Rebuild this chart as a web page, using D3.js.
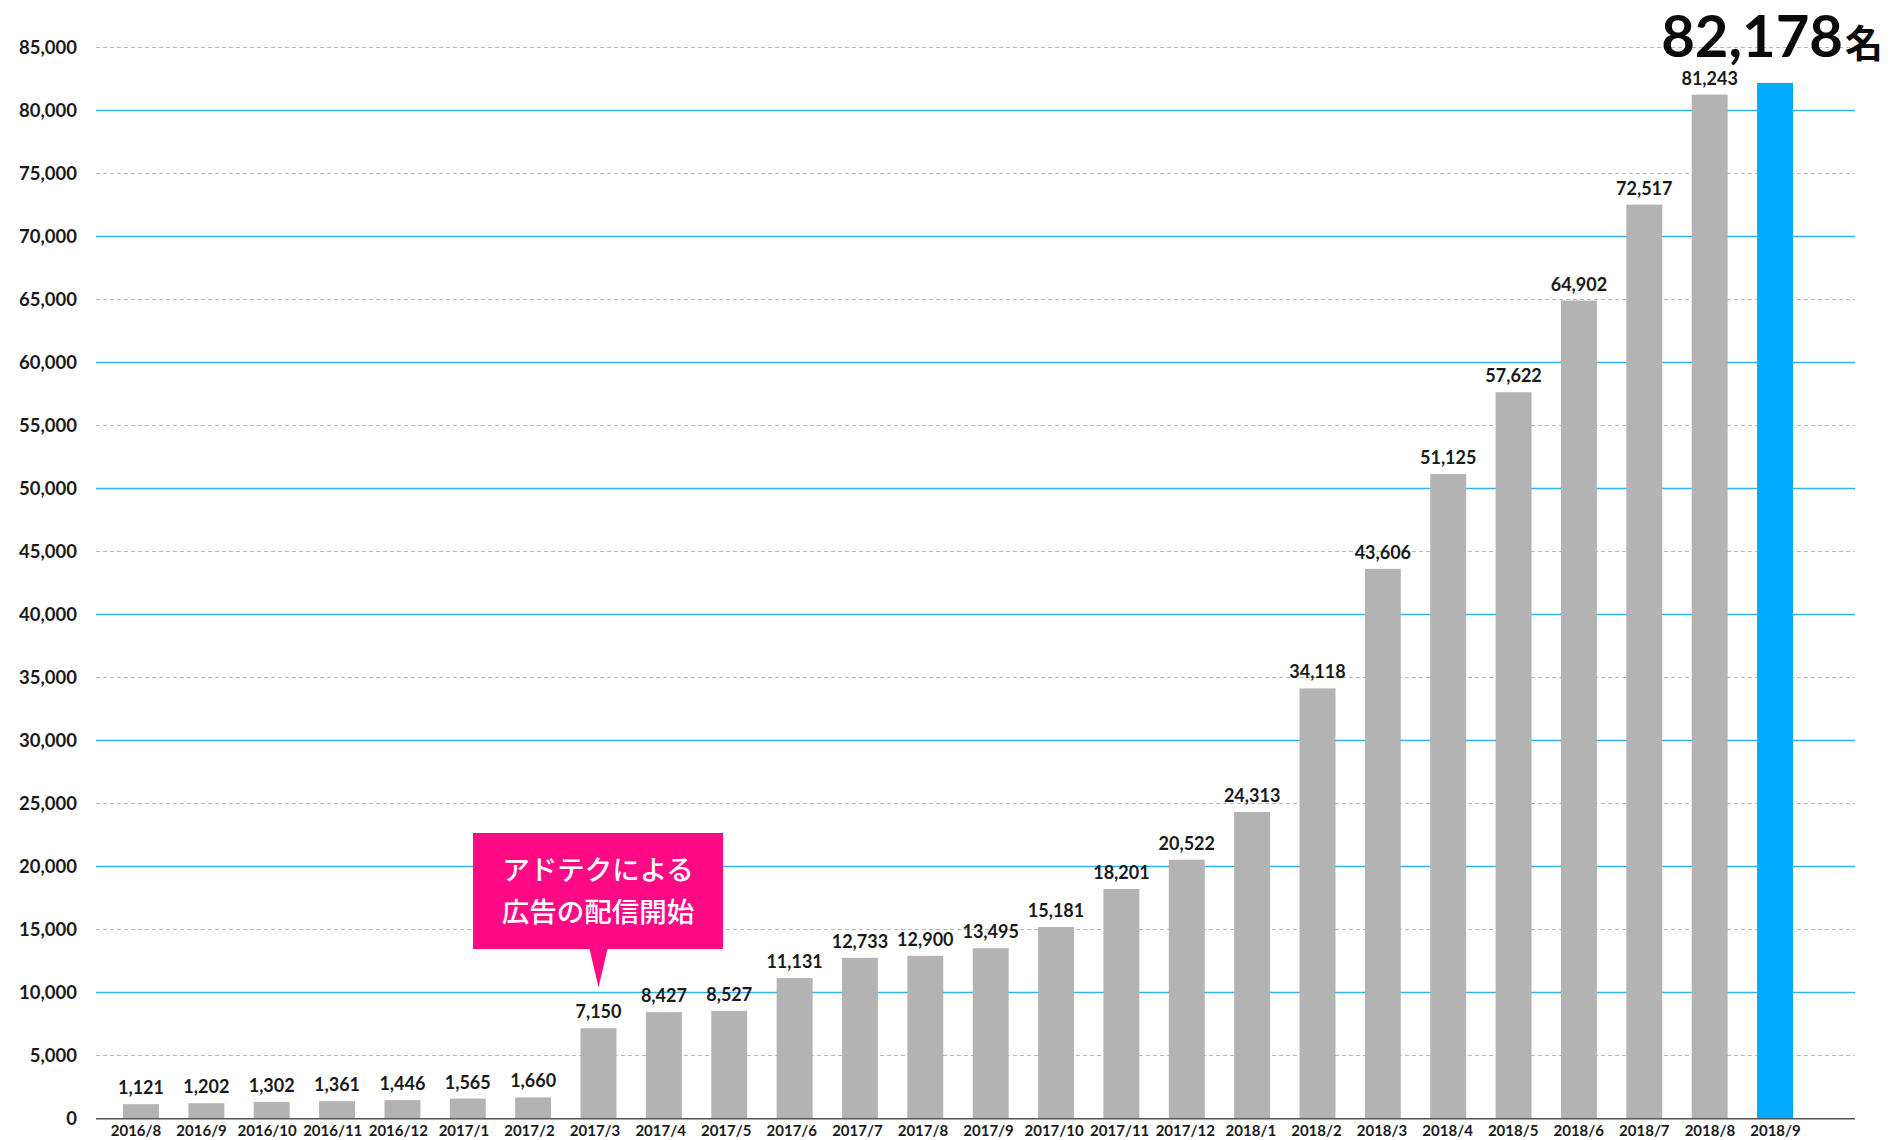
<!DOCTYPE html>
<html lang="ja">
<head>
<meta charset="utf-8">
<script src="https://cdn.jsdelivr.net/npm/d3@7"></script>
<style>
  html, body { margin: 0; padding: 0; background: #fff; }
  svg { display: block; font-family: Lato, "Noto Sans CJK JP", sans-serif; }
</style>
</head>
<body>
<svg id="chart" width="1890" height="1140"></svg>
<script>
// Monthly registered users
const months = ["2016/8","2016/9","2016/10","2016/11","2016/12","2017/1","2017/2","2017/3","2017/4","2017/5","2017/6","2017/7","2017/8","2017/9","2017/10","2017/11","2017/12","2018/1","2018/2","2018/3","2018/4","2018/5","2018/6","2018/7","2018/8","2018/9"];
const users = [1121,1202,1302,1361,1446,1565,1660,7150,8427,8527,11131,12733,12900,13495,15181,18201,20522,24313,34118,43606,51125,57622,64902,72517,81243,82178];
const yTicks = [0,5000,10000,15000,20000,25000,30000,35000,40000,45000,50000,55000,60000,65000,70000,75000,80000,85000];
const calloutLines = ["アドテクによる", "広告の配信開始"];
const calloutMonth = "2017/3";
const totalUnit = "名";

const svg = d3.select("#chart");
const fmt = d3.format(",");

const axisLeft = 96, axisRight = 1855;
const y = d3.scaleLinear().domain([0, 85000]).range([1118.3, 47.3]);
const x = d3.scaleBand().domain(months).range([108.3, 1807.7])
  .paddingInner(0.45).paddingOuter(0.225);
// month labels sit on their own, slightly wider, point scale
const xLabel = d3.scalePoint().domain(months).range([136, 1775.5]);

// grid: solid blue every 10,000, dashed grey on the 5,000s in between
const grid = svg.append("g");
grid.selectAll("line").data(yTicks.filter(d => d > 0)).join("line")
  .attr("x1", axisLeft).attr("x2", axisRight)
  .attr("y1", d => Math.round(y(d)) + 0.5).attr("y2", d => Math.round(y(d)) + 0.5)
  .attr("stroke", d => d % 10000 === 0 ? "#2fb2f0" : "#b8b8b8")
  .attr("stroke-width", d => d % 10000 === 0 ? 1.3 : 1)
  .attr("stroke-dasharray", d => d % 10000 === 0 ? null : "4,3");

// y-axis labels
svg.append("g").selectAll("text").data(yTicks).join("text")
  .attr("x", 77).attr("y", d => y(d))
  .attr("dy", "0.35em")
  .attr("text-anchor", "end")
  .attr("font-size", 18.5).attr("font-weight", 700).attr("fill", "#1a1a1a")
  .text(d => fmt(d));

// bars
const last = months[months.length - 1];
svg.append("g").selectAll("rect").data(months).join("rect")
  .attr("x", d => x(d)).attr("width", x.bandwidth())
  .attr("y", (d, i) => y(users[i]))
  .attr("height", (d, i) => y(0) - y(users[i]))
  .attr("fill", d => d === last ? "#00aaff" : "#b3b3b3");

// baseline
svg.append("line")
  .attr("x1", axisLeft).attr("x2", axisRight)
  .attr("y1", y(0) + 0.5).attr("y2", y(0) + 0.5)
  .attr("stroke", "#555").attr("stroke-width", 1.6);

// value labels above the bars (all but the latest month)
svg.append("g").selectAll("text").data(months.slice(0, -1)).join("text")
  .attr("x", d => x(d) + x.bandwidth() / 2)
  .attr("y", (d, i) => y(users[i]) - 10)
  .attr("text-anchor", "middle")
  .attr("font-size", 18).attr("font-weight", 700).attr("fill", "#1a1a1a")
  .text((d, i) => fmt(users[i]));

// month labels
svg.append("g").selectAll("text").data(months).join("text")
  .attr("x", d => xLabel(d))
  .attr("y", 1135.5)
  .attr("text-anchor", "middle")
  .attr("font-size", 15).attr("font-weight", 700).attr("fill", "#1a1a1a")
  .text(d => d);

// headline total for the latest month
const total = users[users.length - 1];
const head = svg.append("text")
  .attr("x", 1883).attr("y", 57)
  .attr("text-anchor", "end")
  .attr("fill", "#0a0a0a").attr("font-weight", 700);
head.append("tspan").attr("font-size", 58).text(fmt(total));
head.append("tspan").attr("font-size", 38)
  .attr("font-family", "'Noto Sans CJK JP', sans-serif").attr("dx", 2).text(totalUnit);

// callout marking the start of ad delivery
const cx = x(calloutMonth) + x.bandwidth() / 2;
const ci = months.indexOf(calloutMonth);
const tipY = y(users[ci]) - 41;
const box = { x0: 473, x1: 723, y0: 833, y1: 949 };
const callout = svg.append("g");
callout.append("path")
  .attr("d", `M${box.x0},${box.y0}H${box.x1}V${box.y1}H${cx + 9}L${cx},${tipY}L${cx - 9},${box.y1}H${box.x0}Z`)
  .attr("fill", "#ff0a84");
callout.selectAll("text").data(calloutLines).join("text")
  .attr("x", (box.x0 + box.x1) / 2)
  .attr("y", (d, i) => 870 + i * 42)
  .attr("dy", "0.36em")
  .attr("text-anchor", "middle")
  .attr("font-family", "'Noto Sans CJK JP', sans-serif")
  .attr("font-size", 27.5).attr("font-weight", 500).attr("fill", "#fff")
  .text(d => d);
</script>
</body>
</html>
